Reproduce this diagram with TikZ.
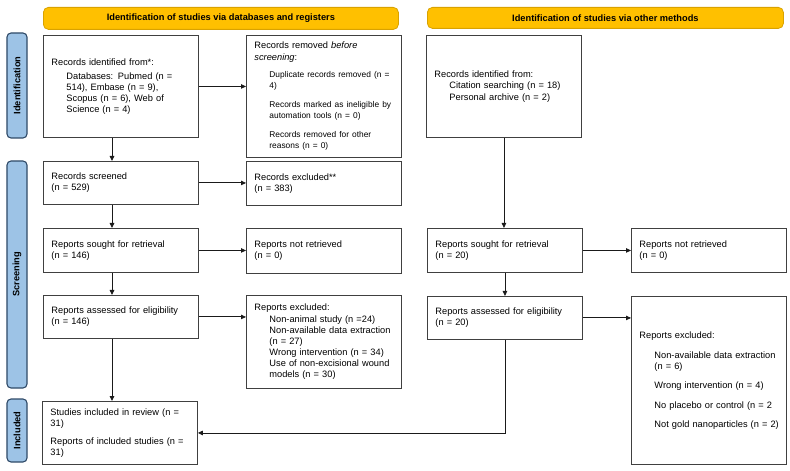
\documentclass[tikz,border=0pt]{standalone}
\usepackage{fontspec}
\setmainfont{Liberation Sans}
\usepackage{tikz}
\usepackage{xcolor}
\usetikzlibrary{arrows.meta,positioning,calc}
\definecolor{gold}{HTML}{FFC000}
\definecolor{golddark}{HTML}{D9A200}
\definecolor{phase}{HTML}{9DC3E6}
\definecolor{phasedark}{HTML}{2F4A68}
\definecolor{ink}{HTML}{1A1A1A}
\definecolor{boxline}{HTML}{404040}
\newcommand{\boxfs}{\fontsize{9.3}{11.2}\selectfont}
\newcommand{\subfs}{\fontsize{8.4}{11}\selectfont}
\newcommand{\ind}{\hspace*{15bp}}
\hbadness=10000
\hfuzz=20pt
\tikzset{
  stagebox/.style={draw=boxline,fill=white,line width=0.9pt,anchor=north west,
                   align=left,text width=139bp,inner xsep=8bp,inner ysep=0pt,
                   font=\boxfs},
  headbar/.style={draw=golddark,fill=gold,line width=0.8pt,rounded corners=5bp,
                  anchor=north west,inner sep=0pt,font=\boxfs\bfseries},
  phasebar/.style={draw=phasedark,fill=phase,line width=1.1pt,rounded corners=4bp,
                   rotate=90,minimum height=20bp,inner sep=0pt,
                   font=\boxfs\bfseries},
  flowarr/.style={-{Triangle[length=5bp,width=4.5bp]},line width=0.9pt,
                  draw=ink}
}

\begin{document}
\begin{tikzpicture}[x=1bp,y=-1bp]
    \useasboundingbox (0,0) rectangle (790,471);
    \node[headbar,minimum width=355bp,minimum height=22bp] (hdrDb) at (43,7)
      {Identification of studies via databases and registers};
    \node[headbar,minimum width=356bp,minimum height=21bp] (hdrOther) at (427,7)
      {Identification of studies via other methods};
    \node[phasebar,minimum width=105bp] (phIdent) at (17,85.5) {Identification};
    \node[phasebar,minimum width=227bp] (phScreen) at (17,274.5) {Screening};
    \node[phasebar,minimum width=63bp] (phIncl) at (17,430.5) {Included};
    % databases and registers
    \node[stagebox,minimum height=102bp] (recId) at (43,35)
      {Records identified from*:\\[3bp]
       \ind Databases: Pubmed (n =\\
       \ind 514), Embase (n = 9),\\
       \ind Scopus (n = 6), Web of\\
       \ind Science (n = 4)};
    \node[stagebox,minimum height=122bp] (recRem) at (246,35)
      {Records removed \textit{before}\\
       \textit{screening}:\\[7bp]
       \subfs\ind Duplicate records removed (n =\\
       \ind 4)\\[8bp]
       \ind Records marked as ineligible by\\
       \ind automation tools (n = 0)\\[8bp]
       \ind Records removed for other\\
       \ind reasons (n = 0)};
    \node[stagebox,minimum height=43bp] (recScr) at (43,161)
      {Records screened\\(n = 529)};
    \node[stagebox,minimum height=44bp] (recExc) at (246,161)
      {Records excluded**\\(n = 383)};
    \node[stagebox,minimum height=44bp] (repSought) at (43,228)
      {Reports sought for retrieval\\(n = 146)};
    \node[stagebox,minimum height=45bp] (repNotRet) at (246,228)
      {Reports not retrieved\\(n = 0)};
    \node[stagebox,minimum height=43bp] (repAss) at (43,295)
      {Reports assessed for eligibility\\(n = 146)};
    \node[stagebox,minimum height=93bp] (repExc) at (246,295)
      {Reports excluded:\\
       \ind Non-animal study (n =24)\\
       \ind Non-available data extraction\\
       \ind (n = 27)\\
       \ind Wrong intervention (n = 34)\\
       \ind Use of non-excisional wound\\
       \ind models (n = 30)};
    \node[stagebox,minimum height=63bp] (incl) at (42,401)
      {Studies included in review (n =\\
       31)\\[7bp]
       Reports of included studies (n =\\
       31)};
    % other methods
    \node[stagebox,minimum height=102bp] (othId) at (426,35)
      {Records identified from:\\
       \ind Citation searching (n = 18)\\
       \ind Personal archive (n = 2)};
    \node[stagebox,minimum height=44bp] (othSought) at (427,228)
      {Reports sought for retrieval\\(n = 20)};
    \node[stagebox,minimum height=44bp] (othNotRet) at (631,228)
      {Reports not retrieved\\(n = 0)};
    \node[stagebox,minimum height=43bp] (othAss) at (427,296)
      {Reports assessed for eligibility\\(n = 20)};
    \node[stagebox,minimum height=168bp] (othExc) at (631,296)
      {Reports excluded:\\[9bp]
       \ind Non-available data extraction\\
       \ind (n = 6)\\[8bp]
       \ind Wrong intervention (n = 4)\\[8bp]
       \ind No placebo or control (n = 2\\[8bp]
       \ind\mbox{Not gold nanoparticles (n = 2)}};
    % connectors
    \coordinate (colL) at (112,0);
    \draw[flowarr] (recId.east) -- (recId.east -| recRem.west);
    \draw[flowarr] (recId.south -| colL) -- (recScr.north -| colL);
    \draw[flowarr] (recScr.east) -- (recScr.east -| recExc.west);
    \draw[flowarr] (recScr.south -| colL) -- (repSought.north -| colL);
    \draw[flowarr] (repSought.east) -- (repSought.east -| repNotRet.west);
    \draw[flowarr] (repSought.south -| colL) -- (repAss.north -| colL);
    \draw[flowarr] (repAss.east) -- (repAss.east -| repExc.west);
    \draw[flowarr] (repAss.south -| colL) -- (incl.north -| colL);
    \draw[flowarr] (othId.south) -- (othId.south |- othSought.north);
    \draw[flowarr] (othSought.east) -- (othSought.east -| othNotRet.west);
    \draw[flowarr] (othSought.south) -- (othAss.north);
    \draw[flowarr] (othAss.east) -- (othAss.east -| othExc.west);
    \draw[flowarr] (othAss.south) |- (incl.east);
  \end{tikzpicture}
\end{document}
